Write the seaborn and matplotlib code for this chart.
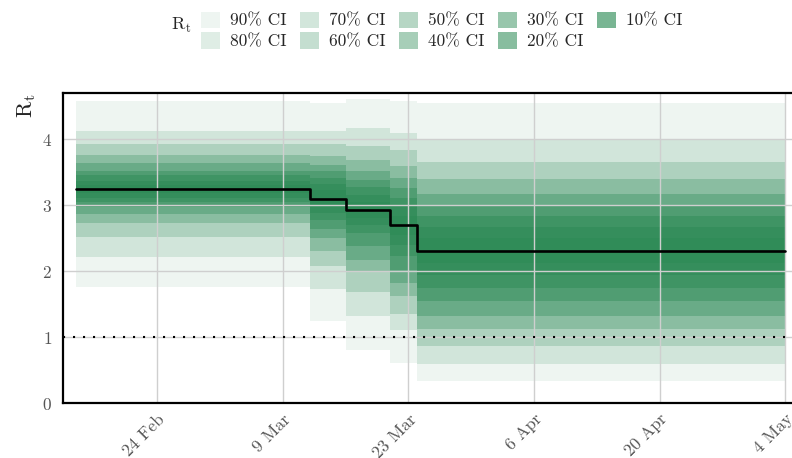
import pandas as pd
import matplotlib
matplotlib.use("Agg")
import matplotlib.pyplot as plt
import seaborn as sns

# segment start dates of the piecewise-constant R_t, plus the final date
seg_starts = ["2020-02-15", "2020-03-12", "2020-03-16", "2020-03-21", "2020-03-24"]
seg_end = "2020-05-04"

median = [3.25, 3.09, 2.92, 2.70, 2.31]

# credible interval bounds per segment
hi_90 = [4.58, 4.55, 4.61, 4.58, 4.55]
hi_80 = [4.13, 4.13, 4.17, 4.09, 4.00]
hi_70 = [3.93, 3.92, 3.90, 3.83, 3.66]
hi_60 = [3.76, 3.75, 3.69, 3.59, 3.40]
hi_50 = [3.64, 3.61, 3.51, 3.41, 3.17]
hi_40 = [3.52, 3.51, 3.38, 3.26, 3.00]
hi_30 = [3.45, 3.41, 3.27, 3.11, 2.83]
hi_20 = [3.37, 3.32, 3.16, 2.98, 2.67]
hi_10 = [3.31, 3.23, 3.05, 2.84, 2.50]

lo_10 = [3.18, 2.98, 2.80, 2.55, 2.12]
lo_20 = [3.11, 2.88, 2.70, 2.40, 1.94]
lo_30 = [3.04, 2.78, 2.57, 2.23, 1.75]
lo_40 = [2.97, 2.64, 2.38, 2.01, 1.55]
lo_50 = [2.86, 2.50, 2.17, 1.82, 1.32]
lo_60 = [2.73, 2.30, 1.98, 1.62, 1.12]
lo_70 = [2.51, 2.07, 1.69, 1.35, 0.86]
lo_80 = [2.22, 1.73, 1.32, 1.10, 0.59]
lo_90 = [1.76, 1.25, 0.80, 0.60, 0.33]

ci_levels = [90, 80, 70, 60, 50, 40, 30, 20, 10]
ci_lo = [lo_90, lo_80, lo_70, lo_60, lo_50, lo_40, lo_30, lo_20, lo_10]
ci_hi = [hi_90, hi_80, hi_70, hi_60, hi_50, hi_40, hi_30, hi_20, hi_10]
ci_alpha = [0.08, 0.15, 0.21, 0.28, 0.35, 0.42, 0.49, 0.57, 0.64]

tick_dates = ["2020-02-24", "2020-03-09", "2020-03-23", "2020-04-06", "2020-04-20", "2020-05-04"]
tick_labels = ["24 Feb", "9 Mar", "23 Mar", "6 Apr", "20 Apr", "4 May"]

# repeat the last value at the end date so the final step is drawn
dates = pd.to_datetime(seg_starts + [seg_end])
df = pd.DataFrame({"date": dates, "median": median + [median[-1]]})

sns.set_theme(style="whitegrid")
plt.rcParams["font.family"] = ["cmr10", "DejaVu Serif"]
plt.rcParams["mathtext.fontset"] = "cm"
plt.rcParams["axes.unicode_minus"] = False
plt.rcParams["axes.formatter.use_mathtext"] = True

green = "#2E8B57"

fig = plt.figure(figsize=(7.92, 4.58), dpi=100)
ax = fig.add_axes([0.0795, 0.12, 0.9205, 0.677])

for lvl, lo, hi, a in zip(ci_levels, ci_lo, ci_hi, ci_alpha):
    ax.fill_between(df["date"], lo + [lo[-1]], hi + [hi[-1]], step="post",
                    color=green, alpha=a, linewidth=0, label=f"{lvl}% CI")
handles, labels = ax.get_legend_handles_labels()

sns.lineplot(data=df, x="date", y="median", ax=ax, color="black",
             linewidth=1.9, drawstyle="steps-post", estimator=None, legend=False)
if ax.get_legend() is not None:
    ax.get_legend().remove()

ax.axhline(1, color="black", linewidth=1.5, linestyle=(0, (1, 3.8)))

ax.set_xlim(pd.Timestamp("2020-02-13 12:00"), pd.Timestamp("2020-05-04 18:00"))
ax.set_ylim(0, 4.7)
ax.set_yticks([0, 1, 2, 3, 4])
ax.set_xticks(pd.to_datetime(tick_dates))
ax.set_xticklabels(tick_labels, rotation=45, ha="right", rotation_mode="anchor")

ax.tick_params(axis="both", length=0, labelsize=12.5, labelcolor="#555555")
ax.tick_params(axis="y", pad=8)
ax.tick_params(axis="x", pad=6)

ax.set_xlabel("")
ax.set_ylabel(r"$\mathrm{R}_\mathrm{t}$", fontsize=16, loc="top", labelpad=3)

ax.set_axisbelow("line")
ax.grid(True, color="#cfcfcf", linewidth=1.0)

for side in ["left", "bottom", "top"]:
    ax.spines[side].set_color("black")
    ax.spines[side].set_linewidth(1.6)
ax.spines["right"].set_visible(False)

fig.legend(handles, labels, loc="upper left", bbox_to_anchor=(192 / 792, 1 - 3 / 458),
           ncol=5, frameon=False, borderpad=0, fontsize=12.5,
           handlelength=1.1, handleheight=1.05, handletextpad=0.58,
           columnspacing=0.76, labelspacing=0.22)
fig.text(181 / 792, 1 - 25 / 458, r"$\mathrm{R}_\mathrm{t}$", ha="center", va="center",
         fontsize=13)

fig.savefig("out.png", dpi=100)
